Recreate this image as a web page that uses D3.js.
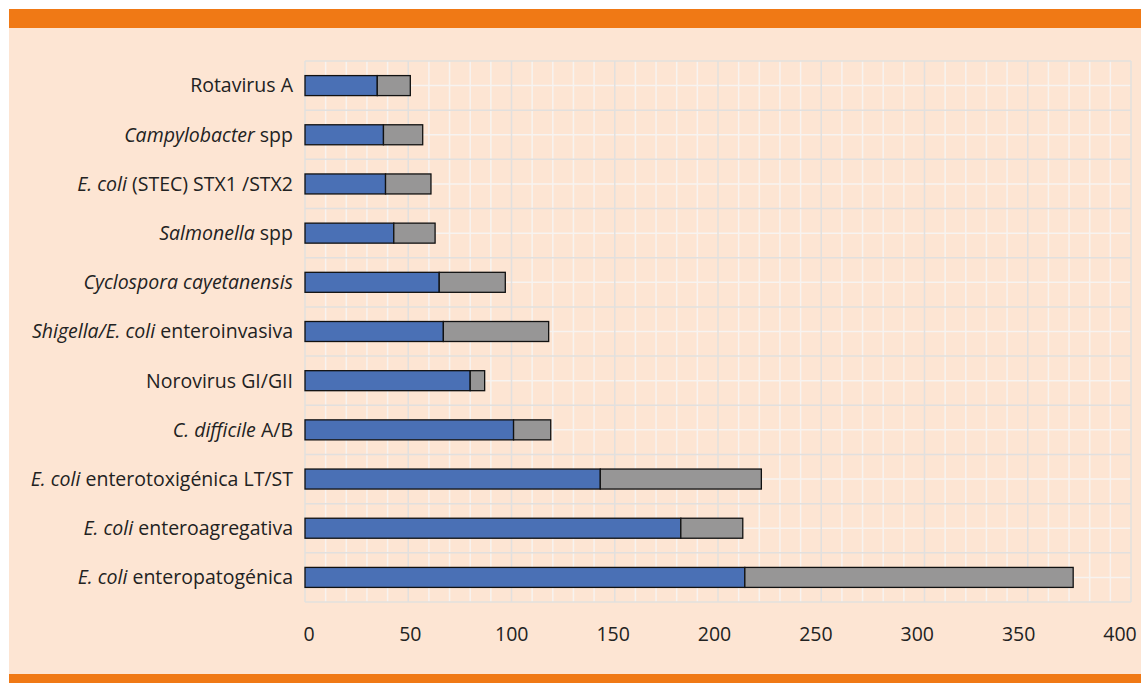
<!DOCTYPE html>
<html>
<head>
<meta charset="utf-8">
<script src="https://cdn.jsdelivr.net/npm/d3@7"></script>
<style>
  body { margin: 0; background: #fff; }
  svg { display: block; }
</style>
</head>
<body>
<div id="chart"></div>
<script>
// Categories from top to bottom; each label split into [text, italic?] parts
var categories = [
  [["Rotavirus A", false]],
  [["Campylobacter", true], [" spp", false]],
  [["E. coli", true], [" (STEC) STX1 /STX2", false]],
  [["Salmonella", true], [" spp", false]],
  [["Cyclospora cayetanensis", true]],
  [["Shigella/E. coli", true], [" enteroinvasiva", false]],
  [["Norovirus GI/GII", false]],
  [["C. difficile", true], [" A/B", false]],
  [["E. coli", true], [" enterotoxigénica LT/ST", false]],
  [["E. coli", true], [" enteroagregativa", false]],
  [["E. coli", true], [" enteropatogénica", false]]
];

// first segment (blue) and second segment (gray)
var blueValues = [35, 38, 39, 43, 65, 67, 80, 101, 143, 182, 213];
var grayValues = [16, 19, 22, 20, 32, 51, 7, 18, 78, 30, 159];

var xTicks = [0, 50, 100, 150, 200, 250, 300, 350, 400];

var W = 1141, H = 683;
var svg = d3.select("#chart").append("svg")
  .attr("width", W)
  .attr("height", H);

// background panel and orange bands
svg.append("rect").attr("x", 9).attr("y", 9).attr("width", W - 9).attr("height", H - 9).style("fill", "#fde5d3");
svg.append("rect").attr("x", 9).attr("y", 9).attr("width", W - 9).attr("height", 19).style("fill", "#f07915");
svg.append("rect").attr("x", 9).attr("y", 674).attr("width", W - 9).attr("height", 9).style("fill", "#f07915");

var plotLeft = 305, plotRight = 1131, plotTop = 61, plotBottom = 602;

var x = d3.scaleLinear().domain([0, 400]).range([plotLeft, plotRight]);
// tick labels sit slightly inside the grid ends, like the original
var xLabel = d3.scaleLinear().domain([0, 400]).range([309, 1120]);

var y = d3.scaleBand()
  .domain(d3.range(categories.length))
  .range([plotTop, plotBottom])
  .paddingInner(0.6)
  .paddingOuter(0.3);

var band = y.step();

// minor vertical grid (every 10)
svg.append("g").selectAll("line")
  .data(d3.range(10, 400, 10).filter(function(v) { return v % 50 !== 0; }))
  .enter().append("line")
  .attr("x1", function(d) { return x(d); })
  .attr("x2", function(d) { return x(d); })
  .attr("y1", plotTop).attr("y2", plotBottom)
  .style("stroke", "#f7f3f0")
  .style("stroke-width", 1.5);

// minor horizontal grid (through category centres)
svg.append("g").selectAll("line")
  .data(d3.range(categories.length))
  .enter().append("line")
  .attr("x1", plotLeft).attr("x2", plotRight)
  .attr("y1", function(d) { return y(d) + y.bandwidth() / 2; })
  .attr("y2", function(d) { return y(d) + y.bandwidth() / 2; })
  .style("stroke", "#f7f3f0")
  .style("stroke-width", 1.5);

// major vertical grid
svg.append("g").selectAll("line")
  .data(xTicks)
  .enter().append("line")
  .attr("x1", function(d) { return x(d); })
  .attr("x2", function(d) { return x(d); })
  .attr("y1", plotTop).attr("y2", plotBottom)
  .style("stroke", "#e2e0de")
  .style("stroke-width", 1.5);

// major horizontal grid (band boundaries)
svg.append("g").selectAll("line")
  .data(d3.range(categories.length + 1))
  .enter().append("line")
  .attr("x1", plotLeft).attr("x2", plotRight)
  .attr("y1", function(d) { return plotTop + d * band; })
  .attr("y2", function(d) { return plotTop + d * band; })
  .style("stroke", "#e2e0de")
  .style("stroke-width", 1.5);

// bars
var bars = svg.append("g");
categories.forEach(function(c, i) {
  var yTop = y(i) + y.bandwidth() / 2 - 10;
  bars.append("rect")
    .attr("x", x(0))
    .attr("y", yTop)
    .attr("width", x(blueValues[i]) - x(0))
    .attr("height", 20)
    .style("fill", "#4a70b5")
    .style("stroke", "#111")
    .style("stroke-width", 1.3);
  bars.append("rect")
    .attr("x", x(blueValues[i]))
    .attr("y", yTop)
    .attr("width", x(blueValues[i] + grayValues[i]) - x(blueValues[i]))
    .attr("height", 20)
    .style("fill", "#979696")
    .style("stroke", "#111")
    .style("stroke-width", 1.3);
});

// category labels
var labels = svg.append("g")
  .style("font-family", "'Open Sans', sans-serif")
  .style("font-size", "19.5px")
  .style("fill", "#222");

categories.forEach(function(c, i) {
  var t = labels.append("text")
    .attr("x", 293)
    .attr("y", y(i) + y.bandwidth() / 2)
    .attr("dy", "0.35em")
    .style("text-anchor", "end");
  c.forEach(function(part) {
    t.append("tspan")
      .text(part[0])
      .style("font-style", part[1] ? "italic" : "normal");
  });
});

// x tick labels
svg.append("g")
  .style("font-family", "'Open Sans', sans-serif")
  .style("font-size", "19.5px")
  .style("fill", "#222")
  .selectAll("text")
  .data(xTicks)
  .enter().append("text")
  .attr("x", function(d) { return xLabel(d); })
  .attr("y", 634)
  .attr("dy", "0.35em")
  .style("text-anchor", "middle")
  .text(function(d) { return d; });
</script>
</body>
</html>
